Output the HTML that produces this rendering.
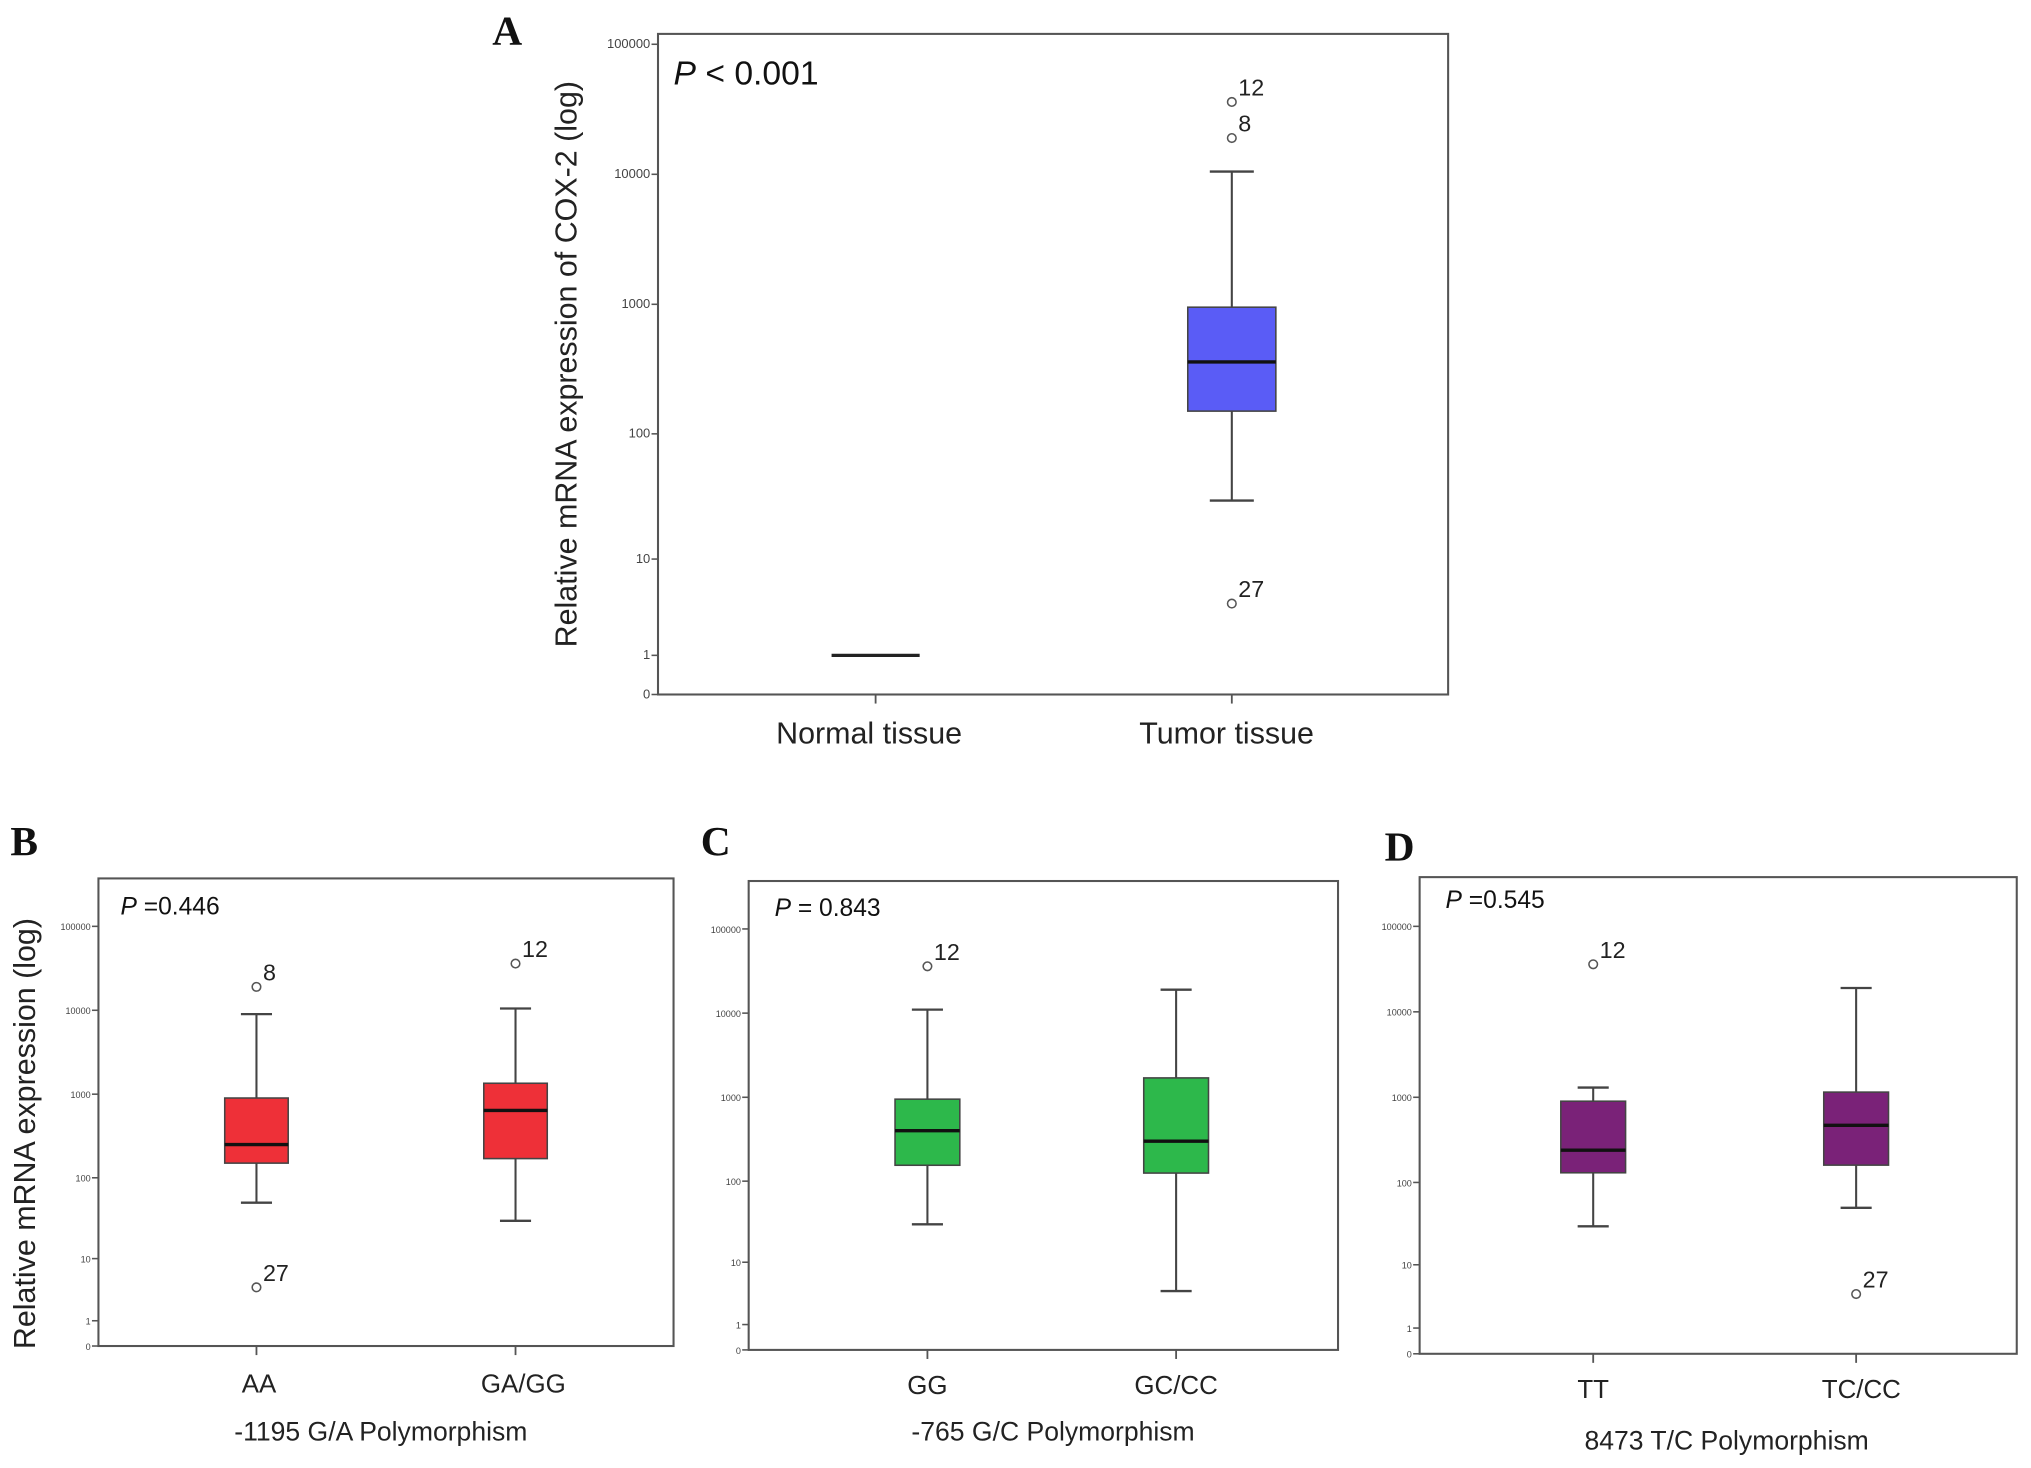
<!DOCTYPE html>
<html><head><meta charset="utf-8"><style>
html,body{margin:0;padding:0;background:#fff;}
svg{display:block;font-family:"Liberation Sans",Arial,sans-serif;}
</style></head><body>
<svg id="fig" width="2031" height="1468" viewBox="0 0 1568 1133" xmlns="http://www.w3.org/2000/svg"></svg>
<script>
// ---- data ----
const tickValues = [0, 1, 10, 100, 1000, 10000, 100000];
const tickLabels = ["0", "1", "10", "100", "1000", "10000", "100000"];

const catsA = ["Normal tissue", "Tumor tissue"];
const q1A = [1, 150];
const medA = [1, 360];
const q3A = [1, 950];
const lowA = [1, 30];
const highA = [1, 10500];
const outA = [[], [36000, 19000, 4]];
const outLabA = [[], ["12", "8", "27"]];

const catsB = ["AA", "GA/GG"];
const q1B = [150, 170];
const medB = [250, 640];
const q3B = [900, 1350];
const lowB = [50, 30];
const highB = [9000, 10500];
const outB = [[19000, 4], [36000]];
const outLabB = [["8", "27"], ["12"]];

const catsC = ["GG", "GC/CC"];
const q1C = [155, 125];
const medC = [400, 300];
const q3C = [950, 1700];
const lowC = [30, 4];
const highC = [11000, 19000];
const outC = [[36000], []];
const outLabC = [["12"], []];

const catsD = ["TT", "TC/CC"];
const q1D = [130, 160];
const medD = [240, 470];
const q3D = [900, 1150];
const lowD = [30, 50];
const highD = [1300, 19000];
const outD = [[36000], [4]];
const outLabD = [["12"], ["27"]];

// ---- drawing ----
const NS = "http://www.w3.org/2000/svg";
const svg = document.getElementById("fig");
function mk(tag, attrs, parent, text) {
  const e = document.createElementNS(NS, tag);
  for (const k in attrs) e.setAttribute(k, attrs[k]);
  if (text !== undefined) e.textContent = text;
  (parent || svg).appendChild(e);
  return e;
}

function panel(cfg) {
  const g = mk("g", {});
  
  
  const y = v => cfg.base - cfg.scale * Math.log10(v + 1);
  const x = i => cfg.catX[i];
  const frame = mk("rect", {x: cfg.x0, y: cfg.y0, width: cfg.x1 - cfg.x0, height: cfg.base - cfg.y0, fill: "none", stroke: "#555", "stroke-width": 1.6}, g);
  
  
  tickValues.forEach((v, i) => {
    const yy = y(v);
    const t = mk("line", {x1: cfg.x0 - 5, x2: cfg.x0, y1: yy, y2: yy, stroke: "#555", "stroke-width": 1.2}, g);
    
    
    const l = mk("text", {x: cfg.x0 - 6, y: yy + 3, "font-size": cfg.tickFont, "text-anchor": "end", fill: "#444"}, g, tickLabels[i]);
    
    
  });
  cfg.cats.forEach((c, i) => {
    const cx = x(i);
    const tk = mk("line", {x1: cx, x2: cx, y1: cfg.base, y2: cfg.base + 7, stroke: "#555", "stroke-width": 1.4}, g);
    
    
    const cl = mk("text", {x: cx + (cfg.labDx ? cfg.labDx[i] : 0), y: cfg.catLabY, "font-size": cfg.catFont, "text-anchor": "middle", fill: "#222"}, g, c);
    
    
    const hw = cfg.boxW / 2, ww = cfg.whW / 2;
    if (cfg.q3[i] === cfg.q1[i]) {
      const f = mk("line", {x1: cx - hw, x2: cx + hw, y1: y(cfg.med[i]), y2: y(cfg.med[i]), stroke: "#222", "stroke-width": 2.5}, g);
      
      
      return;
    }
    const w1 = mk("line", {x1: cx, x2: cx, y1: y(cfg.high[i]), y2: y(cfg.q3[i]), stroke: "#444", "stroke-width": 1.6}, g);
    
    
    const w2 = mk("line", {x1: cx, x2: cx, y1: y(cfg.q1[i]), y2: y(cfg.low[i]), stroke: "#444", "stroke-width": 1.6}, g);
    
    
    [cfg.high[i], cfg.low[i]].forEach(v => {
      const cap = mk("line", {x1: cx - ww, x2: cx + ww, y1: y(v), y2: y(v), stroke: "#444", "stroke-width": 1.8}, g);
      
      
    });
    const b = mk("rect", {x: cx - hw, y: y(cfg.q3[i]), width: cfg.boxW, height: y(cfg.q1[i]) - y(cfg.q3[i]), fill: cfg.color, stroke: "#444", "stroke-width": 1.2}, g);
    
    
    const m = mk("line", {x1: cx - hw, x2: cx + hw, y1: y(cfg.med[i]), y2: y(cfg.med[i]), stroke: "#111", "stroke-width": 2.6}, g);
    
    
    cfg.out[i].forEach((v, j) => {
      const o = mk("circle", {cx: cx, cy: y(v), r: 3.3, fill: "#fff", stroke: "#555", "stroke-width": 1.2}, g);
      
      
      const ol = mk("text", {x: cx + 5, y: y(v) - 5, "font-size": cfg.outFont, fill: "#222"}, g, cfg.outLab[i][j]);
      
      
    });
  });
  const p = mk("text", {x: cfg.pX, y: cfg.pY, "font-size": cfg.pFont, fill: "#111"}, g);
  
  
  mk("tspan", {"font-style": "italic"}, p, "P");
  mk("tspan", {}, p, cfg.pText);
  const L = mk("text", {x: cfg.letX, y: cfg.letY, "font-size": 32, "font-weight": "bold", "font-family": "Liberation Serif, serif", fill: "#111"}, g, cfg.letter);
  
  
  if (cfg.yTitle) {
    const yt = mk("text", {x: 0, y: 0, transform: `translate(${cfg.yTitleX},${cfg.yTitleY}) rotate(-90)`, "font-size": cfg.yTitleFont, "text-anchor": "middle", fill: "#222"}, g, cfg.yTitle);
    
    
  }
  if (cfg.xTitle) {
    const xt = mk("text", {x: cfg.xTitleX, y: cfg.xTitleY, "font-size": 20.5, "text-anchor": "middle", fill: "#222"}, g, cfg.xTitle);
    
    
  }
}

panel({name: "panel-a", letter: "A", letX: 380, letY: 34, x0: 508, x1: 1118, y0: 26, base: 536, scale: 100.4,
  catX: [676, 951], cats: catsA, q1: q1A, med: medA, q3: q3A, low: lowA, high: highA, out: outA, outLab: outLabA,
  color: "#5a5cf6", boxW: 68, whW: 34, tickFont: 10, catFont: 23.5, catLabY: 574, labDx: [-5, -4], outFont: 18,
  pX: 520, pY: 65, pFont: 26, pText: " < 0.001",
  yTitle: "Relative mRNA expression of COX-2 (log)", yTitleX: 445, yTitleY: 281, yTitleFont: 23.5});

panel({name: "panel-b", letter: "B", letX: 8, letY: 660, x0: 76, x1: 520, y0: 678, base: 1039, scale: 64.8,
  catX: [198, 398], cats: catsB, q1: q1B, med: medB, q3: q3B, low: lowB, high: highB, out: outB, outLab: outLabB,
  color: "#ee3038", boxW: 49, whW: 24, tickFont: 7, catFont: 20, catLabY: 1075, labDx: [2, 6], outFont: 18,
  pX: 93, pY: 706, pFont: 19, pText: " =0.446",
  yTitle: "Relative mRNA expression (log)", yTitleX: 27, yTitleY: 875, yTitleFont: 23.5,
  xTitle: "-1195 G/A Polymorphism", xTitleX: 294, xTitleY: 1112});

panel({name: "panel-c", letter: "C", letX: 541, letY: 660, x0: 578, x1: 1033, y0: 680, base: 1042, scale: 65,
  catX: [716, 908], cats: catsC, q1: q1C, med: medC, q3: q3C, low: lowC, high: highC, out: outC, outLab: outLabC,
  color: "#2db84b", boxW: 50, whW: 24, tickFont: 7, catFont: 20, catLabY: 1076, outFont: 18,
  pX: 598, pY: 707, pFont: 19, pText: " = 0.843",
  xTitle: "-765 G/C Polymorphism", xTitleX: 813, xTitleY: 1112});

panel({name: "panel-d", letter: "D", letX: 1069, letY: 664, x0: 1096, x1: 1557, y0: 677, base: 1045, scale: 66,
  catX: [1230, 1433], cats: catsD, q1: q1D, med: medD, q3: q3D, low: lowD, high: highD, out: outD, outLab: outLabD,
  color: "#7a2278", boxW: 50, whW: 24, tickFont: 7, catFont: 20, catLabY: 1079, labDx: [0, 4], outFont: 18,
  pX: 1116, pY: 701, pFont: 19, pText: " =0.545",
  xTitle: "8473 T/C Polymorphism", xTitleX: 1333, xTitleY: 1119});
</script>
</body></html>
